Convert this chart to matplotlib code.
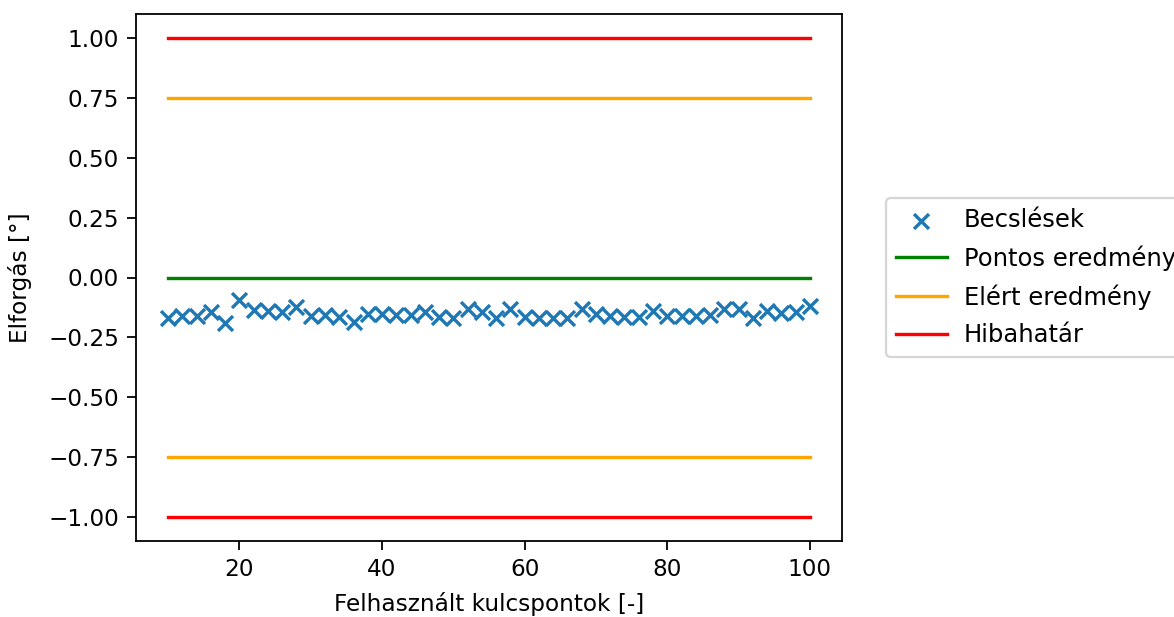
import numpy as np
import matplotlib
matplotlib.use("Agg")
import matplotlib.pyplot as plt

# Number of keypoints used for each estimate
keypoints = list(range(10, 101, 2))

# Estimated rotation for each keypoint count [deg]
estimates = [
    -0.170, -0.159, -0.162, -0.145, -0.191, -0.093, -0.135, -0.138,
    -0.145, -0.124, -0.159, -0.155, -0.166, -0.187, -0.152, -0.152,
    -0.156, -0.156, -0.145, -0.166, -0.171, -0.131, -0.145, -0.171,
    -0.130, -0.166, -0.171, -0.171, -0.171, -0.131, -0.152, -0.159,
    -0.166, -0.166, -0.138, -0.159, -0.159, -0.159, -0.155, -0.131,
    -0.131, -0.169, -0.138, -0.148, -0.145, -0.117,
]

# Reference levels [deg]
exact_value = 0.0
achieved_bound = 0.75
error_bound = 1.0

x_span = [keypoints[0], keypoints[-1]]

dpi = 162
plt.rcParams["font.size"] = 10.3
fig = plt.figure(figsize=(1174 / dpi, 617 / dpi), dpi=dpi)
ax = fig.add_axes([136 / 1174, 76 / 617, 706 / 1174, 527 / 617])

ax.scatter(keypoints, estimates, marker="x", s=44, color="C0", label="Becslések")
ax.plot(x_span, [exact_value, exact_value], color="green", label="Pontos eredmény")
ax.plot(x_span, [achieved_bound, achieved_bound], color="orange", label="Elért eredmény")
ax.plot(x_span, [-achieved_bound, -achieved_bound], color="orange")
ax.plot(x_span, [error_bound, error_bound], color="red", label="Hibahatár")
ax.plot(x_span, [-error_bound, -error_bound], color="red")

ax.set_xlabel("Felhasznált kulcspontok [-]", labelpad=5)
ax.set_ylabel("Elforgás [°]", labelpad=7)
ax.set_yticks(np.arange(-1.0, 1.01, 0.25))
ax.tick_params(length=4)

ax.legend(loc="center left", bbox_to_anchor=(1.045, 0.5), fontsize=10.8,
          handlelength=2.1, handletextpad=0.7, labelspacing=0.55)

fig.savefig("out.png", dpi=dpi)
